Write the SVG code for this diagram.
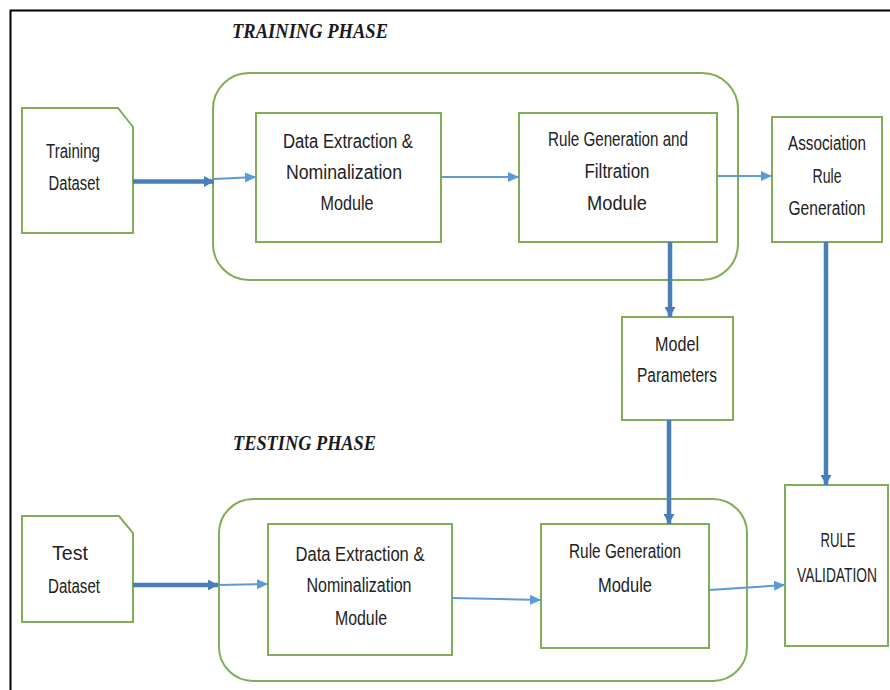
<svg xmlns="http://www.w3.org/2000/svg" width="890" height="690" viewBox="0 0 890 690">
<style>
.box{fill:#fff;stroke:#7FAE55;stroke-width:2}
.grp{fill:none;stroke:#7FAE55;stroke-width:2}
.t{font-family:"Liberation Sans",Arial,sans-serif;font-size:20px;fill:#222;text-anchor:middle}
.ph{font-family:"Liberation Serif","Times New Roman",serif;font-weight:bold;font-style:italic;fill:#1a1a1a}
.thin{stroke:#5B9BD5;stroke-width:2;fill:none}
.thick{stroke:#4A7EBB;stroke-width:4.5;fill:none}
</style>
<defs>
<marker id="ah" markerUnits="userSpaceOnUse" markerWidth="11" markerHeight="10" refX="11" refY="5" orient="auto">
<path d="M0,0 L11,5 L0,10 z" fill="#5B9BD5"/>
</marker>
<marker id="ahk" markerUnits="userSpaceOnUse" markerWidth="10" markerHeight="11" refX="10" refY="5.5" orient="auto">
<path d="M0,0 L10,5.5 L0,11 z" fill="#4A7EBB"/>
</marker>
</defs>
<rect width="890" height="690" fill="#fff"/>
<path d="M10.5,690 V10.5 H890" fill="none" stroke="#000" stroke-width="2"/>

<text class="ph" x="232" y="38" font-size="20" textLength="156" lengthAdjust="spacingAndGlyphs">TRAINING PHASE</text>
<text class="ph" x="233" y="450" font-size="22" textLength="143" lengthAdjust="spacingAndGlyphs">TESTING PHASE</text>

<g id="training-phase">
<rect class="grp" x="213" y="73" width="525" height="207" rx="36"/>
</g>
<g id="testing-phase">
<rect class="grp" x="219" y="499" width="528" height="182" rx="34"/>
</g>

<g id="training-dataset">
<path class="box" d="M22,108 H118 L133,127 V233 H22 Z"/>
<text class="t" x="73" y="158" textLength="54" lengthAdjust="spacingAndGlyphs">Training</text>
<text class="t" x="74" y="190" textLength="51" lengthAdjust="spacingAndGlyphs">Dataset</text>
</g>

<g id="data-extraction-train">
<rect class="box" x="256" y="113" width="185" height="129"/>
<text class="t" x="348" y="148" textLength="130" lengthAdjust="spacingAndGlyphs">Data Extraction  &amp;</text>
<text class="t" x="344" y="179" textLength="116" lengthAdjust="spacingAndGlyphs">Nominalization</text>
<text class="t" x="347" y="210" textLength="53" lengthAdjust="spacingAndGlyphs">Module</text>
</g>

<g id="rule-gen-filtration">
<rect class="box" x="519" y="113" width="198" height="129"/>
<text class="t" x="618" y="146" textLength="140" lengthAdjust="spacingAndGlyphs">Rule Generation and</text>
<text class="t" x="617" y="178" textLength="65" lengthAdjust="spacingAndGlyphs">Filtration</text>
<text class="t" x="617" y="210" textLength="60" lengthAdjust="spacingAndGlyphs">Module</text>
</g>

<g id="association-rule-generation">
<rect class="box" x="772" y="117" width="110" height="125"/>
<text class="t" x="827" y="150" textLength="78" lengthAdjust="spacingAndGlyphs">Association</text>
<text class="t" x="827" y="183" textLength="29" lengthAdjust="spacingAndGlyphs">Rule</text>
<text class="t" x="827" y="215" textLength="77" lengthAdjust="spacingAndGlyphs">Generation</text>
</g>

<g id="model-parameters">
<rect class="box" x="622" y="317" width="111" height="103"/>
<text class="t" x="677" y="351" textLength="44" lengthAdjust="spacingAndGlyphs">Model</text>
<text class="t" x="677" y="382" textLength="80" lengthAdjust="spacingAndGlyphs">Parameters</text>
</g>

<g id="test-dataset">
<path class="box" d="M22,516 H119 L133,533 V622 H22 Z"/>
<text class="t" x="70" y="560" textLength="36" lengthAdjust="spacingAndGlyphs">Test</text>
<text class="t" x="74" y="593" textLength="52" lengthAdjust="spacingAndGlyphs">Dataset</text>
</g>

<g id="data-extraction-test">
<rect class="box" x="268" y="524" width="184" height="131"/>
<text class="t" x="360" y="561" textLength="129" lengthAdjust="spacingAndGlyphs">Data Extraction  &amp;</text>
<text class="t" x="359" y="592" textLength="105" lengthAdjust="spacingAndGlyphs">Nominalization</text>
<text class="t" x="361" y="625" textLength="52" lengthAdjust="spacingAndGlyphs">Module</text>
</g>

<g id="rule-generation-module">
<rect class="box" x="541" y="524" width="168" height="124"/>
<text class="t" x="625" y="558" textLength="112" lengthAdjust="spacingAndGlyphs">Rule Generation</text>
<text class="t" x="625" y="592" textLength="54" lengthAdjust="spacingAndGlyphs">Module</text>
</g>

<g id="rule-validation">
<rect class="box" x="785" y="485" width="103" height="161"/>
<text class="t" x="838" y="547" textLength="35" lengthAdjust="spacingAndGlyphs">RULE</text>
<text class="t" transform="translate(837,582) scale(0.69,1)" x="0" y="0">VALIDATION</text>
</g>

<g id="connectors">
<line class="thick" x1="133" y1="181.5" x2="214" y2="181.5" marker-end="url(#ahk)"/>
<line class="thin" x1="214" y1="179" x2="256" y2="177" marker-end="url(#ah)"/>
<line class="thin" x1="441" y1="177" x2="519" y2="177" marker-end="url(#ah)"/>
<line class="thin" x1="717" y1="176" x2="772" y2="176" marker-end="url(#ah)"/>
<line class="thick" x1="670" y1="242" x2="670" y2="317" marker-end="url(#ahk)"/>
<line class="thick" x1="826" y1="242" x2="826" y2="485" marker-end="url(#ahk)"/>
<line class="thick" x1="669" y1="420" x2="669" y2="524" marker-end="url(#ahk)"/>
<line class="thick" x1="133" y1="585" x2="218" y2="585" marker-end="url(#ahk)"/>
<line class="thin" x1="218" y1="585" x2="268" y2="584" marker-end="url(#ah)"/>
<line class="thin" x1="452" y1="598" x2="541" y2="600" marker-end="url(#ah)"/>
<line class="thin" x1="709" y1="590" x2="785" y2="585" marker-end="url(#ah)"/>
</g>
</svg>
